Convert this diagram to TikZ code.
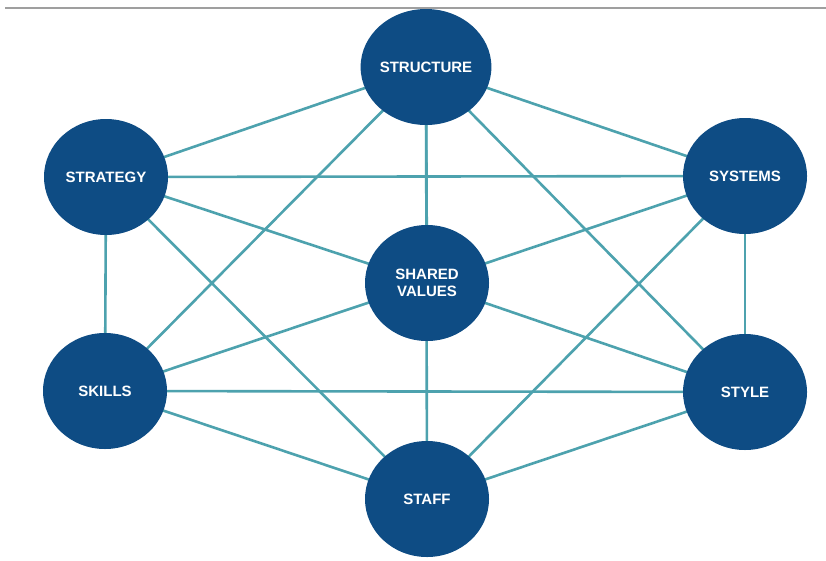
\documentclass[tikz,border=0pt]{standalone}
\usepackage{fontspec}
\setmainfont{Liberation Sans}
\usetikzlibrary{shapes.geometric,backgrounds}
\definecolor{circblue}{HTML}{0E4C84}
\definecolor{linkteal}{HTML}{4DA2AE}
\tikzset{
  sbox/.style={ellipse, fill=circblue, minimum width=124pt, minimum height=116pt, inner sep=0pt,
    text=white, font=\fontsize{15}{17.5}\selectfont\bfseries, align=center},
  link/.style={draw=linkteal, line width=2.6pt}
}
\begin{document}
\begin{tikzpicture}[x=1pt,y=-1pt]
\useasboundingbox (0,0) rectangle (826,560);
\node[sbox] (structure) at (426,67) {STRUCTURE};
\node[sbox] (strategy) at (106,177) {STRATEGY};
\node[sbox] (systems) at (745,176) {SYSTEMS};
\node[sbox] (shared) at (427,283) {SHARED\\VALUES};
\node[sbox] (skills) at (105,391) {SKILLS};
\node[sbox] (style) at (745,392) {STYLE};
\node[sbox] (staff) at (427,499) {STAFF};
\begin{scope}[on background layer]
\fill[white] (0,0) rectangle (826,560);
\draw[gray!75, line width=2pt] (5,8) -- (826,8);
\foreach \a/\b in {structure/strategy, structure/systems, structure/shared, structure/skills, structure/style, structure/staff,
  strategy/systems, strategy/shared, strategy/skills, strategy/staff,
  systems/shared, systems/style, systems/staff,
  shared/skills, shared/style, shared/staff,
  skills/style, skills/staff, style/staff}
  \draw[link] (\a.center) -- (\b.center);
\end{scope}
\end{tikzpicture}
\end{document}
